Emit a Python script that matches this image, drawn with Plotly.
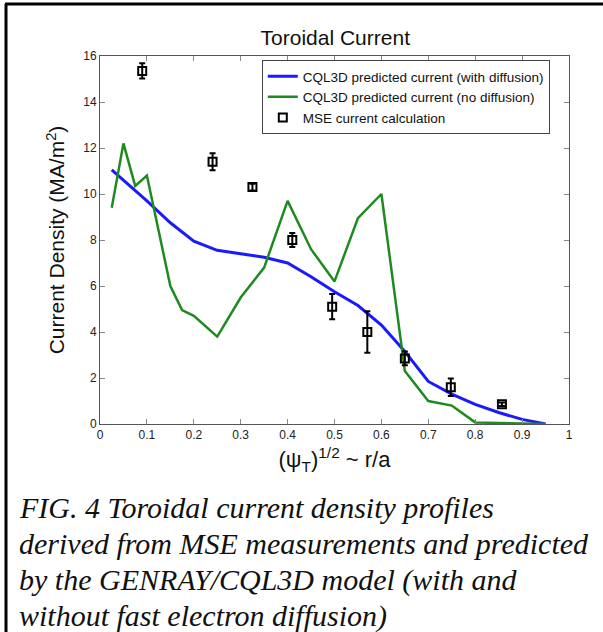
import plotly.graph_objects as go

# CQL3D predicted current, with fast electron diffusion
x_diff = [0.025, 0.05, 0.1, 0.15, 0.2, 0.25, 0.3, 0.35, 0.4, 0.45, 0.5,
          0.55, 0.6, 0.65, 0.7, 0.75, 0.8, 0.85, 0.9, 0.95]
j_diff = [11.05, 10.6, 9.7, 8.75, 7.95, 7.55, 7.4, 7.25, 7.0, 6.4, 5.75,
          5.15, 4.3, 3.15, 1.85, 1.3, 0.85, 0.5, 0.2, 0.0]

# CQL3D predicted current, no diffusion
x_nodiff = [0.025, 0.05, 0.075, 0.1, 0.15, 0.175, 0.2, 0.25, 0.3, 0.35, 0.4,
            0.45, 0.5, 0.55, 0.6, 0.65, 0.7, 0.75, 0.8, 0.85, 0.9, 0.95]
j_nodiff = [9.4, 12.2, 10.35, 10.8, 6.0, 4.95, 4.7, 3.8, 5.5, 6.8, 9.7,
            7.6, 6.2, 8.95, 10.0, 2.3, 1.0, 0.8, 0.07, 0.03, 0.02, 0.0]

# MSE current calculation
x_mse = [0.09, 0.24, 0.325, 0.41, 0.495, 0.57, 0.65, 0.748, 0.857]
j_mse = [15.35, 11.4, 10.3, 8.0, 5.1, 4.0, 2.85, 1.6, 0.86]
err_mse = [0.33, 0.37, 0.15, 0.3, 0.55, 0.9, 0.3, 0.38, 0.08]

x_ticks = [0, 0.1, 0.2, 0.3, 0.4, 0.5, 0.6, 0.7, 0.8, 0.9, 1]
y_ticks = [0, 2, 4, 6, 8, 10, 12, 14, 16]

caption = [
    "FIG. 4 Toroidal current density profiles",
    "derived from MSE measurements and predicted",
    "by the GENRAY/CQL3D model (with and",
    "without fast electron diffusion)",
]

SANS = "Liberation Sans, Arial, sans-serif"
SERIF = "Liberation Serif, Times New Roman, serif"

fig = go.Figure()

fig.add_trace(go.Scatter(
    x=x_diff, y=j_diff, mode="lines",
    name="CQL3D predicted current (with diffusion)",
    line=dict(color="#1a1aff", width=3),
))
fig.add_trace(go.Scatter(
    x=x_nodiff, y=j_nodiff, mode="lines",
    name="CQL3D predicted current (no diffusion)",
    line=dict(color="#1f8a1f", width=2.5),
))
fig.add_trace(go.Scatter(
    x=x_mse, y=j_mse, mode="markers",
    name="MSE current calculation",
    marker=dict(symbol="square-open", size=8, color="black",
                line=dict(width=2, color="black")),
    error_y=dict(type="data", array=err_mse, color="black",
                 thickness=2, width=3),
))

axis_common = dict(
    showline=True, linecolor="#555", linewidth=1, mirror="ticks",
    ticks="inside", ticklen=5, tickcolor="#888", showgrid=False,
    zeroline=False, tickfont=dict(size=12, family=SANS, color="#222"),
)

fig.update_layout(
    width=603, height=632,
    paper_bgcolor="white", plot_bgcolor="white",
    margin=dict(l=100, r=34, t=56, b=208),
    title=dict(text="Toroidal Current", x=0.556, xanchor="center",
               y=1 - 38 / 632, yanchor="middle",
               font=dict(size=21, family=SANS, color="#111")),
    xaxis=dict(range=[0, 1], tickvals=x_ticks,
               ticktext=[f"{t:g}" for t in x_ticks],
               title=dict(text="(ψ<sub>T</sub>)<sup>1/2</sup> ~ r/a",
                          font=dict(size=22, family=SANS, color="#111"),
                          standoff=10),
               **axis_common),
    yaxis=dict(range=[0, 16], tickvals=y_ticks,
               title=dict(text="Current Density (MA/m<sup>2</sup>)",
                          font=dict(size=21, family=SANS, color="#111"),
                          standoff=12),
               **axis_common),
    legend=dict(x=0.345, y=0.989, xanchor="left", yanchor="top",
                bgcolor="white", bordercolor="#444", borderwidth=1,
                font=dict(size=13.5, family=SANS, color="#111"),
                tracegroupgap=0, itemwidth=30),
    showlegend=True,
)

# caption lines below the chart
cap_y = [507, 543, 580, 616]
for line, ypx in zip(caption, cap_y):
    fig.add_annotation(
        text=line, xref="paper", yref="paper",
        x=-(100 - 17) / 469, xanchor="left",
        y=(424 - ypx) / 368, yanchor="middle",
        showarrow=False,
        font=dict(size=30, family=SERIF, color="#111", style="italic"),
    )

# frame lines around the figure (top and left)
fig.add_shape(type="line", xref="paper", yref="paper",
              x0=-(100 - 5) / 469, x1=(603 - 100) / 469,
              y0=(424 - 4) / 368, y1=(424 - 4) / 368,
              line=dict(color="black", width=3))
fig.add_shape(type="line", xref="paper", yref="paper",
              x0=-(100 - 6) / 469, x1=-(100 - 6) / 469,
              y0=(424 - 632) / 368, y1=(424 - 4) / 368,
              line=dict(color="black", width=3))

# drop the default page margin so the figure sits at the window origin
fig.write_html("out.html", config={"displayModeBar": False},
               post_script="document.body.style.margin='0';")
